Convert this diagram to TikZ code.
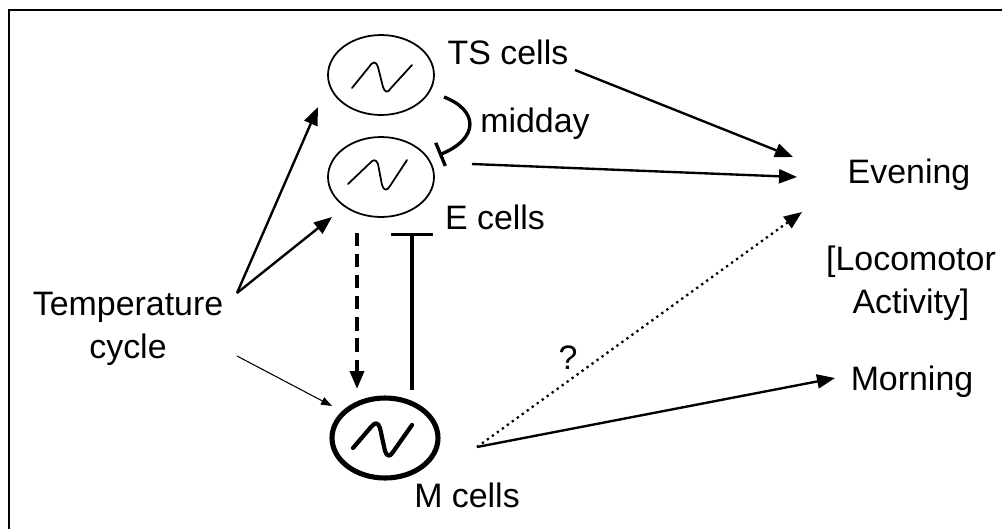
\documentclass[tikz,border=0pt]{standalone}
\usepackage{fontspec}
\setmainfont{Liberation Sans}
\usetikzlibrary{arrows.meta,shapes.geometric}
\begin{document}
\begin{tikzpicture}[x=0.02cm,y=-0.02cm,
  lbl/.style={font=\fontsize{19.3}{24.4}\selectfont,inner sep=0pt,anchor=base},
  cell/.style={draw,ellipse,line width=1pt,minimum width=2.12cm,minimum height=1.6cm,inner sep=0pt},
  mcell/.style={draw,ellipse,line width=2.9pt,minimum width=2.12cm,minimum height=1.6cm,inner sep=0pt},
  arr/.style={line width=1.35pt,-{Triangle[length=0.36cm,width=0.28cm]}},
  thinarr/.style={line width=0.6pt,-{Triangle[length=0.22cm,width=0.16cm]}},
  inh/.style={line width=1.8pt,-{Bar[width=0.86cm,line width=1.8pt]}},
  inhc/.style={line width=1.9pt,-{Bar[width=0.5cm,line width=1.9pt]}},
  sq/.style={line width=1pt,line cap=round,line join=round}
]
\useasboundingbox (0,0) rectangle (1002,529);
% frame
\draw[line width=1.1pt] (9,529) -- (9,10) -- (1002,10);

% cells
\node[cell] (ts) at (381,75) {};
\node[cell] (e) at (381,177) {};
\node[mcell] (m) at (385,438) {};

\begin{scope}[shift={(ts.center)}]
 \draw[sq] (-29,13) -- (-12,-8) .. controls (-8,-14) and (-5,-14) .. (-3,-8) -- (2,12) .. controls (4,18) and (7,18) .. (10,13) -- (31,-10);
\end{scope}
\begin{scope}[shift={(e.center)}]
 \draw[sq] (-33,7) -- (-12,-13) .. controls (-8,-18) and (-5,-18) .. (-3,-13) -- (1,8) .. controls (3,14) and (6,14) .. (9,9) -- (26,-17);
\end{scope}
\begin{scope}[shift={(m.center)}]
 \draw[sq,line width=2.4pt] (-32,10) -- (-14,-11) .. controls (-10,-16) and (-7,-16) .. (-5,-10) -- (0,13) .. controls (2,19) and (5,19) .. (8,14) -- (27,-13);
\end{scope}

% labels
\node[lbl] (tsl) at (508,64) {TS cells};
\node[lbl] (mid) at (535,132) {midday};
\node[lbl] (el) at (495,229) {E cells};
\node[lbl] (ml) at (467,507) {M cells};
\node[lbl,align=center,anchor=north] (temp) at (128,292) {Temperature\\cycle};
\node[lbl] (eve) at (909,183) {Evening};
\node[lbl,align=center,anchor=north] (loco) at (911,246) {[Locomotor\\Activity]};
\node[lbl] (morn) at (912,390) {Morning};
\node[lbl] (q) at (568,369) {?};

% connector end points
\coordinate (t1) at (237,293);
\coordinate (t2) at (237,356);
\coordinate (tsE) at (575,70);
\coordinate (eS) at (472,164);
\coordinate (mS) at (477,447);
\coordinate (eve1) at (793,157);
\coordinate (eve2) at (797,177);
\coordinate (eve3) at (802,212);
\coordinate (morn1) at (835,378);
\coordinate (tsIn) at (318,107);
\coordinate (eIn) at (332,217);
\coordinate (mIn) at (332,406);
\coordinate (eBot) at (357,233);
\coordinate (mTop) at (357,389);
\coordinate (mTop2) at (412,390);
\coordinate (eBar) at (412,233);
\coordinate (tsB) at (444,97);
\coordinate (eB) at (439,155);

% connectors
\draw[arr] (tsE) -- (eve1);
\draw[arr] (eS) -- (eve2);
\draw[line width=1.3pt,dash pattern=on 1.3pt off 2.2pt,-{Triangle[length=0.36cm,width=0.28cm]}] (mS) -- (eve3);
\draw[arr] (mS) -- (morn1);
\draw[arr] (t1) -- (tsIn);
\draw[arr] (t1) -- (eIn);
\draw[thinarr] (t2) -- (mIn);
\draw[line width=2.1pt,dash pattern=on 7.5pt off 4.5pt,-{Triangle[length=0.36cm,width=0.28cm]}] (eBot) -- (mTop);
\draw[inh] (mTop2) -- (eBar);
\draw[inhc] (tsB) .. controls (478,110) and (480,138) .. (eB);
\end{tikzpicture}
\end{document}
